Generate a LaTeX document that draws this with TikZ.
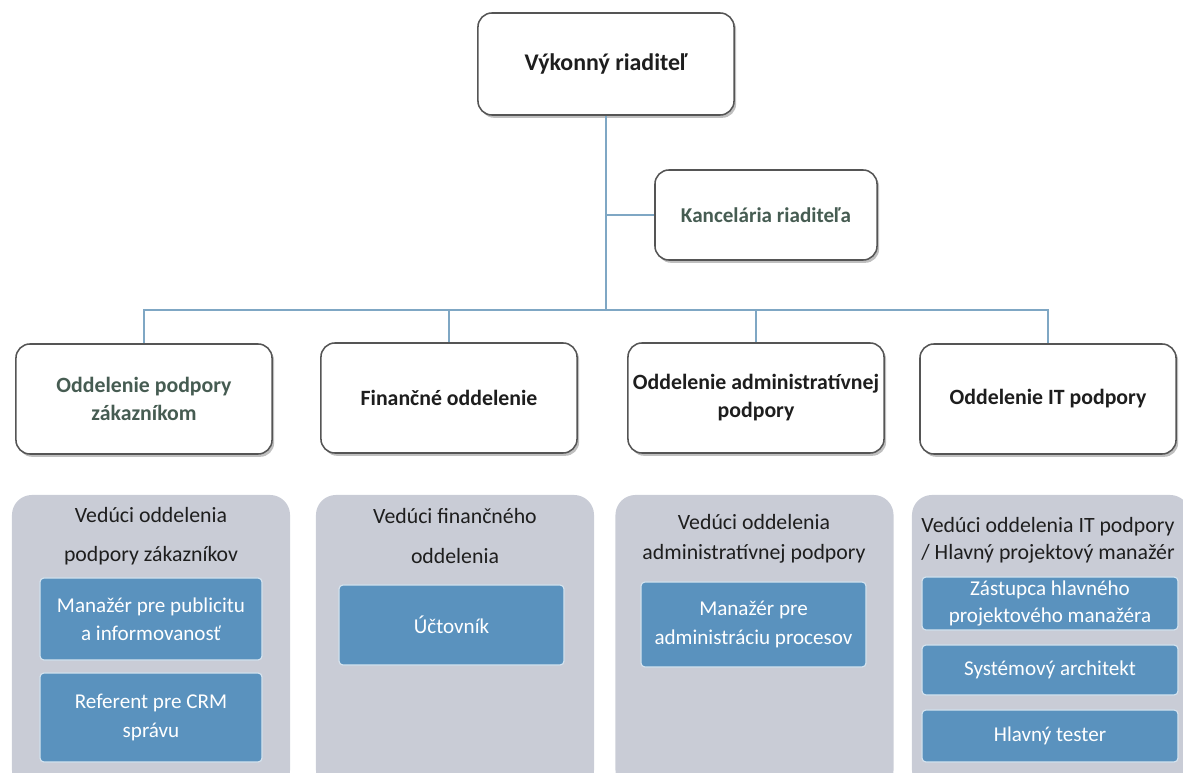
\documentclass[tikz,border=0pt]{standalone}
\usepackage{fontspec}
\setmainfont{Carlito}
\usetikzlibrary{positioning,shadows}
\definecolor{linkblue}{RGB}{127,167,196}
\definecolor{boxedge}{RGB}{85,85,85}
\definecolor{inkdark}{RGB}{30,30,30}
\definecolor{inkgreen}{RGB}{70,92,82}
\definecolor{panelgray}{RGB}{201,204,214}
\definecolor{roleblue}{RGB}{90,146,190}
\tikzset{
    unit/.style={draw=boxedge, line width=1.1pt, fill=white, rounded corners=0.35cm,
        align=center, inner sep=1pt, text=inkdark,
        font=\bfseries\fontsize{15.5}{20}\selectfont,
        drop shadow={shadow xshift=1.5pt, shadow yshift=-2pt, fill=black, opacity=0.25}},
    dept/.style={unit, minimum width=6.4cm, minimum height=2.75cm},
    panel/.style={fill=panelgray, rounded corners=0.5cm, minimum width=6.95cm, minimum height=7.375cm},
    head/.style={align=center, inner sep=0pt, text=inkdark},
    role/.style={fill=roleblue, draw=white!75!roleblue, line width=0.8pt, rounded corners=0.1cm,
        align=center, inner sep=0pt, text=white, font=\fontsize{15}{20}\selectfont},
    link/.style={draw=linkblue, line width=1pt}
}
\begin{document}
\begin{tikzpicture}[x=0.025cm, y=-0.025cm]
                                \useasboundingbox (0,0) rectangle (1183,773);

                                \node[unit, minimum width=6.4cm, minimum height=2.55cm, font=\bfseries\fontsize{17}{20}\selectfont] (ceo) at (606,64) {Výkonný riaditeľ};
                                \node[unit, minimum width=5.55cm, minimum height=2.25cm, font=\bfseries\fontsize{15}{20}\selectfont, text=inkgreen] (office) at (766,215) {Kancelária riaditeľa};

                                \node[dept, text=inkgreen] (support) at (144,399) {Oddelenie podpory\\zákazníkom};
                                \node[dept] (finance) at (449,398) {Finančné oddelenie};
                                \node[dept] (admin) at (756,398) {Oddelenie administratívnej\\podpory};
                                \node[dept] (itdept) at (1048,399) {Oddelenie IT podpory};

                                \coordinate (bar) at (606,310);
                                \draw[link] (ceo.south) -- (ceo.south |- bar);
                                \draw[link] (ceo.south |- office.west) -- (office.west);
                                \draw[link] (support.north) |- (bar) -| (itdept.north);
                                \draw[link] (finance.north) -- (finance.north |- bar);
                                \draw[link] (admin.north) -- (admin.north |- bar);

                                \node[panel] (psupport) at (151,642.5) {};
                                \node[panel] (pfinance) at (455,642.5) {};
                                \node[panel] (padmin) at (754.5,642.5) {};
                                \node[panel] (pit) at (1051,642.5) {};

                                \node[head, font=\fontsize{15.5}{28}\selectfont] (hsupport) at (151,536) {Vedúci oddelenia\\podpory zákazníkov};
                                \node[head, font=\fontsize{15.5}{28}\selectfont] (hfinance) at (455,536) {Vedúci finančného\\oddelenia};
                                \node[head, font=\fontsize{15.5}{21}\selectfont] (hadmin) at (754,539) {Vedúci oddelenia\\administratívnej podpory};
                                \node[head, font=\fontsize{15.5}{19}\selectfont] (hit) at (1048,540) {Vedúci oddelenia IT podpory\\/ Hlavný projektový manažér};

                                \node[role, minimum width=5.55cm, minimum height=2.05cm] (publicity) at (151,619) {Manažér pre publicitu\\a informovanosť};
                                \node[role, minimum width=5.55cm, minimum height=2.225cm] (crm) at (151,717.5) {Referent pre CRM\\správu};
                                \node[role, minimum width=5.625cm, minimum height=2cm] (accountant) at (451.5,625) {Účtovník};
                                \node[role, minimum width=5.625cm, minimum height=2.125cm] (process) at (753.5,624.5) {Manažér pre\\administráciu procesov};
                                \node[role, minimum width=6.4cm, minimum height=1.325cm, font=\fontsize{15}{19}\selectfont] (deputy) at (1050,603.5) {Zástupca hlavného\\projektového manažéra};
                                \node[role, minimum width=6.4cm, minimum height=1.25cm] (architect) at (1050,670) {Systémový architekt};
                                \node[role, minimum width=6.4cm, minimum height=1.3cm] (tester) at (1050,736) {Hlavný tester};
                            \end{tikzpicture}
\end{document}
